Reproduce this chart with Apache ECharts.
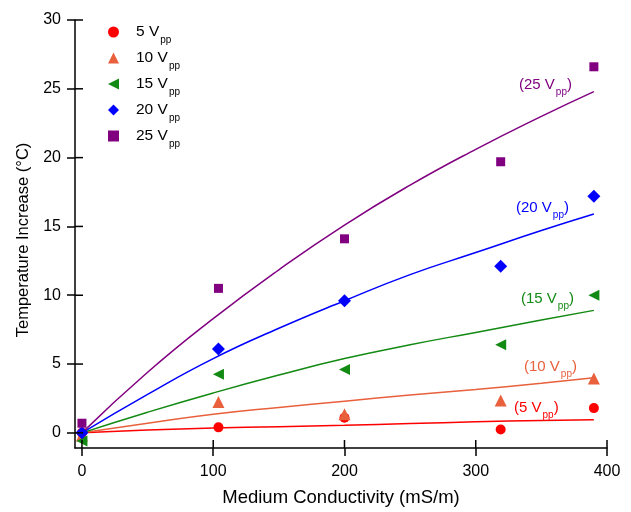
<!doctype html>
<html>
<head>
<meta charset="UTF-8">
<title>Temperature Increase vs Medium Conductivity</title>
<script src="https://cdn.jsdelivr.net/npm/echarts@6/dist/echarts.min.js"></script>
<style>
	html, body { margin: 0; padding: 0; background: #fff; }
	#chart { width: 631px; height: 512px; }
</style>
</head>
<body>
<div id="chart"></div>
<script>
// measured points
var voltages = ['5', '10', '15', '20', '25'];
var conductivity = [0, 104, 200, 319, 390];
var rise5 = [0, 0.4, 1.1, 0.25, 1.8];
var rise10 = [-0.2, 2.25, 1.35, 2.35, 3.95];
var rise15 = [-0.6, 4.25, 4.6, 6.4, 10.0];
var rise20 = [0, 6.1, 9.6, 12.1, 17.2];
var rise25 = [0.7, 10.5, 14.1, 19.7, 26.6];

// fitted curves
var fitX = [0, 50, 100, 150, 200, 250, 300, 350, 390];
var fit5 = [0, 0.2, 0.35, 0.45, 0.55, 0.68, 0.8, 0.9, 0.95];
var fit10 = [0, 0.7, 1.35, 1.85, 2.3, 2.75, 3.15, 3.6, 4.0];
var fit15 = [0, 1.5, 2.9, 4.2, 5.4, 6.4, 7.3, 8.2, 8.9];
var fit20 = [0, 2.8, 5.4, 7.6, 9.6, 11.5, 13.1, 14.7, 15.9];
var fit25 = [0, 4.4, 8.3, 11.85, 15.1, 18.0, 20.6, 23.0, 24.8];

var xTicks = [0, 100, 200, 300, 400];
var yTicks = [0, 5, 10, 15, 20, 25, 30];

var xMin = -5.3, xMax = 400;
var yMin = -1.1, yMax = 30;

var colors = ['#ff0000', '#e8603c', '#138a13', '#0000ff', '#800080'];
var symbols = ['circle', 'triangle', 'path://M0,5L10,0L10,10Z', 'diamond', 'rect'];
var sizes = [10, 12, 11, 13, 9];
var points = [rise5, rise10, rise15, rise20, rise25];
var fits = [fit5, fit10, fit15, fit20, fit25];

function pairs(xs, ys) {
	var out = [];
	for (var i = 0; i < xs.length; i++) out.push([xs[i], ys[i]]);
	return out;
}

var series = [];
for (var i = 0; i < voltages.length; i++) {
	series.push({
		name: voltages[i] + ' Vpp fit',
		type: 'line',
		smooth: true,
		symbol: 'none',
		lineStyle: { color: colors[i], width: 1.5 },
		data: pairs(fitX, fits[i]),
		z: 2
	});
}
for (var i = 0; i < voltages.length; i++) {
	series.push({
		name: voltages[i] + ' Vpp',
		type: 'scatter',
		symbol: symbols[i],
		symbolSize: sizes[i],
		itemStyle: { color: colors[i], opacity: 1 },
		data: pairs(conductivity, points[i]),
		z: 3 + i
	});
}

var labelRich = {
	a: { fontSize: 15, fontFamily: 'Liberation Sans', lineHeight: 18 },
	b: { fontSize: 10, fontFamily: 'Liberation Sans', lineHeight: 18, padding: [14, 0, 0, 1] }
};

function curveLabel(v, x, y, color) {
	return {
		type: 'text',
		x: x, y: y,
		style: {
			text: '{a|(' + v + ' V}{b|pp}{a|)}',
			rich: labelRich,
			fill: color,
			textVerticalAlign: 'middle'
		}
	};
}

var axisFont = { fontSize: 16, fontFamily: 'Liberation Sans', color: '#000' };
var tickLine = { color: '#000', width: 1.5 };

var labels = [
	curveLabel('25', 519, 85, colors[4]),
	curveLabel('20', 516, 208, colors[3]),
	curveLabel('15', 521, 299, colors[2]),
	curveLabel('10', 524, 367, colors[1]),
	curveLabel('5', 514, 408, colors[0])
];

var option = {
	animation: false,
	backgroundColor: '#fff',
	grid: { left: 75, right: 24, top: 20, bottom: 63 },
	legend: {
		orient: 'vertical',
		left: 103,
		top: 14,
		itemWidth: 11,
		itemHeight: 11,
		itemGap: 0,
		data: voltages.map(function(v) { return v + ' Vpp'; }),
		formatter: function(name) {
			return '{a|' + name.replace(' Vpp', ' V') + '}{b|pp}';
		},
		textStyle: {
			padding: [0, 0, 0, 12],
			rich: {
				a: { fontSize: 15.5, fontFamily: 'Liberation Sans', color: '#000', lineHeight: 18 },
				b: { fontSize: 10, fontFamily: 'Liberation Sans', color: '#000', lineHeight: 18, padding: [16, 0, 0, 1] }
			}
		}
	},
	xAxis: {
		type: 'value',
		min: xMin,
		max: xMax,
		name: 'Medium Conductivity (mS/m)',
		nameLocation: 'middle',
		nameGap: 40,
		nameTextStyle: { fontSize: 18.5, fontFamily: 'Liberation Sans', color: '#000' },
		axisLine: { onZero: false, lineStyle: tickLine },
		axisTick: { length: 8, customValues: xTicks, lineStyle: tickLine },
		axisLabel: Object.assign({ margin: 16, customValues: xTicks }, axisFont),
		splitLine: { show: false }
	},
	yAxis: {
		type: 'value',
		min: yMin,
		max: yMax,
		name: 'Temperature Increase (°C)',
		nameLocation: 'middle',
		nameGap: 43,
		nameTextStyle: { fontSize: 16.5, fontFamily: 'Liberation Sans', color: '#000', padding: [0, 12, 0, 0] },
		axisLine: { show: true, onZero: false, lineStyle: tickLine },
		axisTick: { show: true, length: 8, customValues: yTicks, lineStyle: tickLine },
		axisLabel: Object.assign({ margin: 14, customValues: yTicks }, axisFont),
		splitLine: { show: false }
	},
	graphic: labels,
	series: series
};

var chart = echarts.init(document.getElementById('chart'));
chart.setOption(option);

// the original ticks cross the axis line: add the inner half of each tick
var innerTicks = [];
xTicks.forEach(function(v) {
	var p = chart.convertToPixel({ seriesIndex: 0 }, [v, yMin]);
	innerTicks.push({
		type: 'line', z: 100,
		shape: { x1: p[0], y1: p[1], x2: p[0], y2: p[1] - 8 },
		style: { stroke: '#000', lineWidth: 1.5 }
	});
});
yTicks.forEach(function(v) {
	var p = chart.convertToPixel({ seriesIndex: 0 }, [xMin, v]);
	innerTicks.push({
		type: 'line', z: 100,
		shape: { x1: p[0], y1: p[1], x2: p[0] + 8, y2: p[1] },
		style: { stroke: '#000', lineWidth: 1.5 }
	});
});
chart.setOption({ graphic: labels.concat(innerTicks) });
</script>
</body>
</html>
